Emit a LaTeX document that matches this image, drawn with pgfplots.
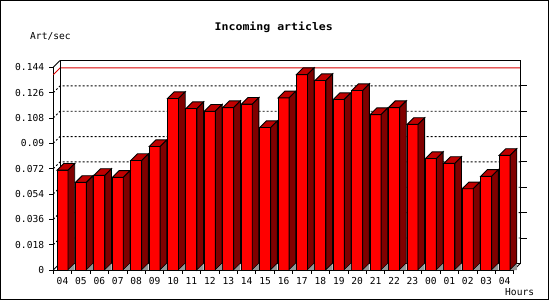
\documentclass[border=0pt]{standalone}
\usepackage{fontspec}
\setmainfont{DejaVu Sans Mono}
\newfontfamily\titlefont[FakeStretch=1.1]{DejaVu Sans Mono}
\usepackage{pgfplots}
\usepackage{pgfplotstable}
\pgfplotsset{compat=1.18}
\definecolor{frontred}{RGB}{255,0,0}
\definecolor{topred}{RGB}{192,0,0}
\definecolor{sidered}{RGB}{128,0,0}
\definecolor{floorgray}{RGB}{150,150,150}
% pt per data unit on y: 202.7pt / 0.144
\newcommand\yunit{1407.64}
\pgfdeclareplotmark{bar3d}{%
  \pgfmathsetlengthmacro\hh{\barval*\yunit}%
  \pgfsetlinewidth{0.9pt}%
  \pgfsetstrokecolor{black}%
  % top face
  \pgfsetfillcolor{topred}%
  \pgfpathmoveto{\pgfqpoint{-5.5pt}{0pt}}%
  \pgfpathlineto{\pgfqpoint{5.5pt}{0pt}}%
  \pgfpathlineto{\pgfqpoint{12.2pt}{6.7pt}}%
  \pgfpathlineto{\pgfqpoint{1.2pt}{6.7pt}}%
  \pgfpathclose
  \pgfusepath{fill,stroke}%
  % side face
  \pgfsetfillcolor{sidered}%
  \pgfpathmoveto{\pgfqpoint{5.5pt}{0pt}}%
  \pgfpathlineto{\pgfqpoint{12.2pt}{6.7pt}}%
  \pgfpathlineto{\pgfpoint{12.2pt}{6.7pt-\hh}}%
  \pgfpathlineto{\pgfpoint{5.5pt}{-\hh}}%
  \pgfpathclose
  \pgfusepath{fill,stroke}%
  % floor shadow
  \pgfsetfillcolor{floorgray}%
  \pgfpathmoveto{\pgfpoint{5.9pt}{-\hh}}%
  \pgfpathlineto{\pgfpoint{12.2pt}{6.3pt-\hh}}%
  \pgfpathlineto{\pgfpoint{12.2pt}{-\hh}}%
  \pgfpathclose
  \pgfusepath{fill}%
}
\pgfplotstableread{
hour val
04 0.0709
05 0.0622
06 0.0672
07 0.0658
08 0.0778
09 0.0877
10 0.1218
11 0.1147
12 0.1128
13 0.1154
14 0.1178
15 0.1012
16 0.1223
17 0.1388
18 0.1346
19 0.1211
20 0.1275
21 0.1104
22 0.1154
23 0.1034
00 0.0792
01 0.0757
02 0.0577
03 0.0665
04 0.0814
}\datatable
\begin{document}
\begin{tikzpicture}
\useasboundingbox (0,0) rectangle (550pt,300pt);
\fill[white] (0,0) rectangle (550pt,300pt);
\draw[line width=1pt] (0.5pt,0.5pt) rectangle (548.5pt,299.5pt);
\node[font=\titlefont\bfseries\fontsize{10.5}{12}\selectfont, anchor=base, inner sep=0pt] at (273.8pt,269.3pt) {Incoming articles};
\node[font=\fontsize{9.6}{11}\selectfont, anchor=base west, inner sep=0pt] at (30pt,260pt) {Art/sec};
\node[font=\fontsize{9.6}{11}\selectfont, anchor=base west, inner sep=0pt] at (505pt,4.7pt) {Hours};
\begin{axis}[
  at={(53.3pt,30pt)}, anchor=south west,
  scale only axis, width=460.5pt, height=202.7pt,
  xmin=-0.5, xmax=24.5, ymin=0, ymax=0.144,
  clip=false,
  axis lines*=left,
  axis line style={-, line width=0.9pt, black},
  tick align=outside,
  ytick={0,0.018,0.036,0.054,0.072,0.09,0.108,0.126,0.144},
  yticklabels={0,0.018,0.036,0.054,0.072,0.09,0.108,0.126,0.144},
  xtick={0,...,24},
  xticklabels={04,05,06,07,08,09,10,11,12,13,14,15,16,17,18,19,20,21,22,23,00,01,02,03,04},
  minor xtick={-0.5,0.5,...,24.5},
  major x tick style={draw=none},
  major tick length=4pt, minor tick length=4pt,
  tick style={black, line width=0.9pt},
  ticklabel style={font=\fontsize{9.6}{11}\selectfont},
  xticklabel style={anchor=north, inner sep=0pt, yshift=-3pt},
  yticklabel style={anchor=east, inner sep=0pt, xshift=-5pt},
]
% back wall
\fill[white] ([xshift=6.7pt,yshift=6.7pt]axis cs:-0.5,0) rectangle ([xshift=6.7pt,yshift=6.7pt]axis cs:24.5,0.144);
\pgfplotsinvokeforeach{0.018,0.036,0.054,0.072,0.09,0.108,0.126}{
  \draw[black, line width=0.9pt, dash pattern=on 2pt off 2pt] (axis cs:-0.5,#1) -- ++(6.7pt,6.7pt) -- ([xshift=6.7pt,yshift=6.7pt]axis cs:24.5,#1);
  \draw[black, line width=0.9pt] ([xshift=6.7pt,yshift=6.7pt]axis cs:24.5,#1) -- ++(-3pt,0);
}
\draw[red!85!black, line width=0.9pt] (axis cs:-0.5,0.1388) -- ++(6.7pt,6.7pt) -- ([xshift=6.7pt,yshift=6.7pt]axis cs:24.5,0.1388);
\draw[line width=0.9pt] ([xshift=6.7pt,yshift=6.7pt]axis cs:-0.5,0) rectangle ([xshift=6.7pt,yshift=6.7pt]axis cs:24.5,0.144);
\draw[line width=0.9pt] (axis cs:-0.5,0.144) -- ++(6.7pt,6.7pt);
\draw[line width=0.9pt] (axis cs:24.5,0) -- ++(6.7pt,6.7pt);
\draw[line width=0.9pt] (axis cs:-0.5,0) -- ++(6.7pt,6.7pt);
% bars
\addplot[ybar, bar width=11pt, fill=frontred, draw=black, line width=0.9pt]
  table[x expr=\coordindex, y=val] {\datatable};
\addplot[only marks, mark=bar3d, visualization depends on={rawy \as \barval}]
  table[x expr=\coordindex, y=val] {\datatable};
\end{axis}
\end{tikzpicture}
\end{document}
